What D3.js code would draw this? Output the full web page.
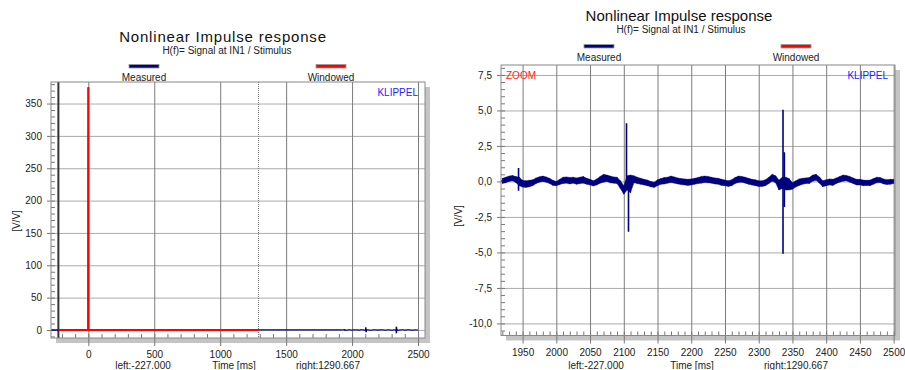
<!DOCTYPE html>
<html>
<head>
<meta charset="utf-8">
<script src="https://cdn.jsdelivr.net/npm/d3@7"></script>
<style>
  body { margin: 0; background: #fff; }
  svg { display: block; font-family: 'Liberation Sans', Arial, sans-serif; }
</style>
</head>
<body>
<div id="chart"></div>
<script>
// Window limits (ms)
const windowLeft = -227.0;
const windowRight = 1290.667;

// Windowed response (red): zero except the main impulse at 0 ms
const windowedT = [-227, -1, 0, 1, 1290.667];
const windowedV = [0, 0, 375, 0, 0];

// Measured response, coarse part before the zoom range
const measuredT = [-283, -1, 0, 1, 1920];
const measuredV = [0, 0, 375, 0, 0.05];

// Measured response in the zoom range: noise band read every 5 ms (lower / upper edge)
const bandT = [1920,1925,1930,1935,1940,1945,1950,1955,1960,1965,1970,1975,1980,1985,1990,1995,
  2000,2005,2010,2015,2020,2025,2030,2035,2040,2045,2050,2055,2060,2065,2070,2075,2080,2085,2090,2095,
  2100,2105,2110,2115,2120,2125,2130,2135,2140,2145,2150,2155,2160,2165,2170,2175,2180,2185,2190,2195,
  2200,2205,2210,2215,2220,2225,2230,2235,2240,2245,2250,2255,2260,2265,2270,2275,2280,2285,2290,2295,
  2300,2305,2310,2315,2320,2325,2330,2335,2340,2345,2350,2355,2360,2365,2370,2375,2380,2385,2390,2395,
  2400,2405,2410,2415,2420,2425,2430,2435,2440,2445,2450,2455,2460,2465,2470,2475,2480,2485,2490,2495,2500];
const bandLo = [-0.15,-0.1,0.0,0.05,-0.08,-0.3,-0.4,-0.42,-0.38,-0.3,-0.15,-0.05,0.0,-0.05,-0.15,-0.28,
  -0.3,-0.22,-0.15,-0.12,-0.18,-0.12,-0.2,-0.15,-0.12,-0.2,-0.25,-0.32,-0.25,-0.12,-0.05,0.0,-0.1,-0.12,-0.15,-0.5,
  -0.9,-0.6,-0.8,-0.1,-0.15,-0.2,-0.25,-0.3,-0.38,-0.42,-0.3,-0.2,-0.18,-0.12,-0.08,-0.12,-0.18,-0.22,-0.25,-0.28,
  -0.25,-0.2,-0.15,-0.12,-0.08,-0.1,-0.12,-0.18,-0.2,-0.28,-0.3,-0.35,-0.3,-0.15,-0.08,-0.05,-0.12,-0.2,-0.25,-0.3,
  -0.35,-0.35,-0.3,-0.15,0.02,-0.1,-0.6,-0.5,-0.6,-0.6,-0.55,-0.4,-0.28,-0.2,-0.15,-0.15,0.02,0.08,-0.12,-0.38,
  -0.3,-0.25,-0.28,-0.15,-0.05,0.02,0.05,-0.05,-0.15,-0.25,-0.25,-0.3,-0.28,-0.3,-0.2,-0.1,-0.08,-0.18,-0.22,-0.2,-0.15];
const bandHi = [0.22,0.3,0.38,0.42,0.35,0.3,0.08,0.05,0.08,0.12,0.25,0.33,0.38,0.32,0.22,0.08,
  0.0,0.15,0.3,0.32,0.28,0.3,0.25,0.3,0.35,0.22,0.15,0.05,0.18,0.35,0.5,0.45,0.38,0.32,0.3,0.05,
  -0.3,0.4,0.45,0.4,0.3,0.22,0.15,0.1,0.0,-0.05,0.12,0.2,0.28,0.3,0.38,0.32,0.25,0.2,0.18,0.15,
  0.18,0.22,0.28,0.35,0.38,0.35,0.3,0.25,0.22,0.15,0.1,0.05,0.12,0.28,0.38,0.35,0.3,0.22,0.15,0.12,
  0.05,0.05,0.12,0.3,0.5,0.4,0.1,0.3,0.3,0.2,-0.1,0.05,0.18,0.22,0.25,0.28,0.45,0.5,0.32,0.05,
  0.12,0.18,0.15,0.25,0.35,0.45,0.42,0.35,0.25,0.15,0.15,0.1,0.08,0.1,0.2,0.3,0.28,0.18,0.12,0.15,0.15];

// Measured response: narrow spikes (time, top, bottom)
const spikeT = [1944, 2104, 2107, 2336, 2338];
const spikeHi = [0.95, 4.1, 0.4, 5.05, 2.05];
const spikeLo = [-0.65, -0.3, -3.55, -5.1, -1.8];

// Axis ticks
const leftXTicks = [0, 500, 1000, 1500, 2000, 2500];
const leftYTicks = [0, 50, 100, 150, 200, 250, 300, 350];
const rightXTicks = [1950, 2000, 2050, 2100, 2150, 2200, 2250, 2300, 2350, 2400, 2450, 2500];
const rightYTicks = [-10, -7.5, -5, -2.5, 0, 2.5, 5, 7.5];

const title = 'Nonlinear Impulse response';
const subtitle = 'H(f)= Signal at IN1 / Stimulus';

const svg = d3.select('#chart').append('svg')
  .attr('width', 905)
  .attr('height', 370);

const commaFmt = d3.formatLocale({ decimal: ',', thousands: '.', grouping: [3], currency: ['', ''], minus: '-' }).format('.1f');
const navy = '#000080';
const red = '#ff0000';

function drawPanel(o) {
  const x = d3.scaleLinear().domain(o.xDomain).range([o.left, o.right]);
  const y = d3.scaleLinear().domain(o.yDomain).range([o.bottom, o.top]);
  const w = o.right - o.left;
  const h = o.bottom - o.top;
  const g = svg.append('g');

  // shadow + frame background
  g.append('rect').attr('x', o.left + 5).attr('y', o.top + 5).attr('width', w).attr('height', h)
    .attr('fill', '#c4c4c4');
  g.append('rect').attr('x', o.left).attr('y', o.top).attr('width', w).attr('height', h)
    .attr('fill', '#fff');

  // horizontal grid
  g.append('g').attr('transform', `translate(${o.left},0)`)
    .call(d3.axisLeft(y).tickValues(o.yTicks).tickSize(-w).tickFormat(''))
    .call(s => s.select('.domain').remove())
    .call(s => s.selectAll('line').attr('stroke', '#ababab'));
  // vertical grid
  g.append('g').attr('transform', `translate(0,${o.bottom})`)
    .call(d3.axisBottom(x).tickValues(o.xTicks).tickSize(-h).tickFormat(''))
    .call(s => s.select('.domain').remove())
    .call(s => s.selectAll('line').attr('stroke', '#7c7c7c'));

  // y major ticks + labels
  g.append('g').attr('transform', `translate(${o.left},0)`)
    .call(d3.axisLeft(y).tickValues(o.yTicks).tickSize(4).tickPadding(5).tickFormat(o.yFormat))
    .call(s => s.select('.domain').remove())
    .call(s => s.selectAll('line').attr('stroke', '#777'))
    .call(s => s.selectAll('text').attr('font-size', 10).attr('fill', '#222')
      .attr('font-family', "'Liberation Sans', Arial, sans-serif"));
  // y minor ticks inside the frame
  g.append('g').attr('transform', `translate(${o.left},0)`)
    .call(d3.axisRight(y).tickValues(o.yMinor).tickSize(4).tickFormat(''))
    .call(s => s.select('.domain').remove())
    .call(s => s.selectAll('line').attr('stroke', '#777'));

  // x major ticks + labels
  g.append('g').attr('transform', `translate(0,${o.bottom})`)
    .call(d3.axisBottom(x).tickValues(o.xTicks).tickSize(8).tickPadding(5).tickFormat(d3.format('d')))
    .call(s => s.select('.domain').remove())
    .call(s => s.selectAll('line').attr('stroke', '#777'))
    .call(s => s.selectAll('text').attr('font-size', 10).attr('fill', '#222')
      .attr('font-family', "'Liberation Sans', Arial, sans-serif"));
  // x minor ticks inside the frame
  g.append('g').attr('transform', `translate(0,${o.bottom})`)
    .call(d3.axisTop(x).tickValues(o.xMinor).tickSize(4).tickFormat(''))
    .call(s => s.select('.domain').remove())
    .call(s => s.selectAll('line').attr('stroke', '#777'));

  // clip
  const clipId = 'clip' + o.id;
  svg.append('clipPath').attr('id', clipId)
    .append('rect').attr('x', o.left).attr('y', o.top).attr('width', w).attr('height', h);
  const plot = g.append('g').attr('clip-path', `url(#${clipId})`);

  // window markers
  if (o.windowMarks) {
    plot.append('line')
      .attr('x1', x(windowLeft)).attr('x2', x(windowLeft))
      .attr('y1', o.top).attr('y2', o.bottom)
      .attr('stroke', '#333').attr('stroke-width', 2);
    plot.append('line')
      .attr('x1', x(windowRight)).attr('x2', x(windowRight))
      .attr('y1', o.top).attr('y2', o.bottom)
      .attr('stroke', '#777').attr('stroke-dasharray', '1,1');
  }

  const line = d3.line().x(d => x(d[0])).y(d => y(d[1]));

  // measured (navy)
  plot.append('path')
    .datum(measuredT.map((t, i) => [t, measuredV[i]]))
    .attr('fill', 'none').attr('stroke', navy).attr('stroke-width', 1.3)
    .attr('d', line);
  const band = bandT.map((t, i) => ({ t, lo: bandLo[i], hi: bandHi[i] }));
  plot.append('path')
    .datum(band)
    .attr('fill', navy).attr('stroke', navy).attr('stroke-width', o.bandStroke)
    .attr('d', d3.area().x(d => x(d.t)).y0(d => y(d.lo)).y1(d => y(d.hi)));
  // noise texture: zig-zag between the band edges
  plot.append('path')
    .datum(band.flatMap(d => [[d.t, d.lo], [d.t, d.hi]]))
    .attr('fill', 'none').attr('stroke', navy).attr('stroke-width', 0.6)
    .attr('d', line);
  plot.selectAll('.spike')
    .data(spikeT)
    .join('line')
    .attr('x1', d => x(d)).attr('x2', d => x(d))
    .attr('y1', (d, i) => y(spikeHi[i])).attr('y2', (d, i) => y(spikeLo[i]))
    .attr('stroke', navy).attr('stroke-width', 1.6);

  // windowed (red)
  if (o.showWindowed) {
    plot.append('path')
      .datum(windowedT.map((t, i) => [t, windowedV[i]]))
      .attr('fill', 'none').attr('stroke', red).attr('stroke-width', 2)
      .attr('d', line);
  }

  // frame
  g.append('rect').attr('x', o.left).attr('y', o.top).attr('width', w).attr('height', h)
    .attr('fill', 'none').attr('stroke', '#888');

  // titles
  g.append('text').attr('x', o.titleX).attr('y', o.titleY)
    .attr('text-anchor', 'middle').attr('font-size', 15).attr('fill', '#111')
    .attr('letter-spacing', o.titleSpacing)
    .text(title);
  g.append('text').attr('x', o.subX).attr('y', o.titleY + 12)
    .attr('text-anchor', 'middle').attr('font-size', 10).attr('fill', '#222')
    .text(subtitle);

  // legend
  const legend = [
    { name: 'Measured', color: navy, cx: o.legMeasured },
    { name: 'Windowed', color: red, cx: o.legWindowed }
  ];
  legend.forEach(l => {
    g.append('rect').attr('x', l.cx - 15).attr('y', o.legY - 1.5).attr('width', 30).attr('height', 3.5)
      .attr('fill', l.color).attr('stroke', '#999').attr('stroke-width', 0.8);
    g.append('text').attr('x', l.cx).attr('y', o.legY + 15)
      .attr('text-anchor', 'middle').attr('font-size', 10).attr('fill', '#222')
      .text(l.name);
  });

  g.append('text').attr('x', o.right - 7).attr('y', o.top + 14)
    .attr('text-anchor', 'end').attr('font-size', 10).attr('fill', '#2222ff')
    .text('KLIPPEL');
  if (o.zoomLabel) {
    g.append('text').attr('x', o.left + 5).attr('y', o.top + 14)
      .attr('font-size', 10).attr('fill', '#ff2020')
      .text('ZOOM');
  }

  // axis captions
  g.append('text')
    .attr('transform', `translate(${o.yLabelX},${o.yLabelY}) rotate(-90)`)
    .attr('text-anchor', 'middle').attr('font-size', 10).attr('fill', '#222')
    .text('[V/V]');
  const capY = 369;
  g.append('text').attr('x', o.capLeft).attr('y', capY).attr('text-anchor', 'middle')
    .attr('font-size', 10).attr('fill', '#222').text('left:-227.000');
  g.append('text').attr('x', o.capMid).attr('y', capY).attr('text-anchor', 'middle')
    .attr('font-size', 10).attr('fill', '#222').text('Time [ms]');
  g.append('text').attr('x', o.capRight).attr('y', capY).attr('text-anchor', 'middle')
    .attr('font-size', 10).attr('fill', '#222').text('right:1290.667');
}

drawPanel({
  id: 'L', left: 51, right: 425, top: 82, bottom: 338,
  xDomain: [-283, 2553], yDomain: [-12.4, 383.3],
  xTicks: leftXTicks, yTicks: leftYTicks,
  xMinor: d3.range(-200, 2501, 100), yMinor: d3.range(-10, 381, 10),
  yFormat: d3.format('d'),
  windowMarks: true, showWindowed: true, zoomLabel: false, bandStroke: 0.3,
  titleX: 223, titleY: 42, titleSpacing: 0.8, subX: 227,
  legY: 66, legMeasured: 144, legWindowed: 331,
  yLabelX: 20, yLabelY: 221,
  capLeft: 143, capMid: 234, capRight: 328
});

drawPanel({
  id: 'R', left: 501, right: 895, top: 65, bottom: 335.5,
  xDomain: [1918, 2502], yDomain: [-10.85, 8.2],
  xTicks: rightXTicks, yTicks: rightYTicks,
  xMinor: d3.range(1920, 2501, 10), yMinor: d3.range(-10.5, 8.1, 0.5),
  yFormat: commaFmt,
  windowMarks: false, showWindowed: false, zoomLabel: true, bandStroke: 0.4,
  titleX: 679, titleY: 21, titleSpacing: 0, subX: 681,
  legY: 46, legMeasured: 599, legWindowed: 796,
  yLabelX: 462, yLabelY: 216,
  capLeft: 596, capMid: 692, capRight: 796
});
</script>
</body>
</html>
